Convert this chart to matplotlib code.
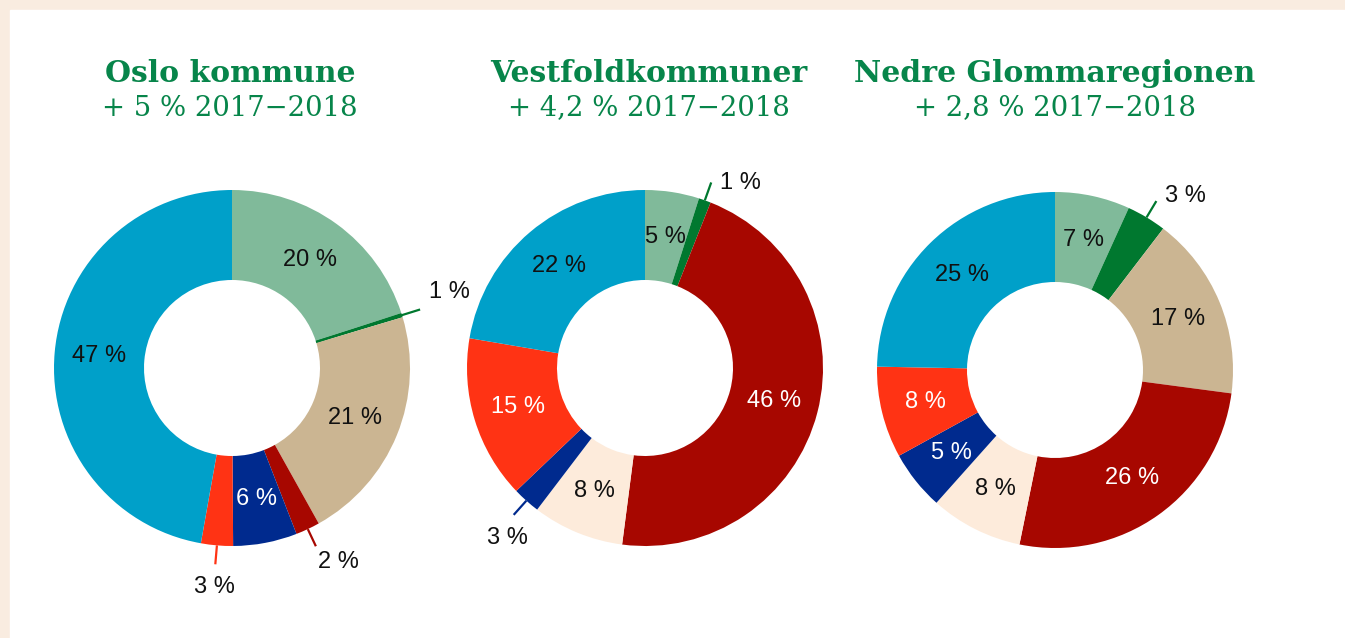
import numpy as np
import matplotlib.pyplot as plt
from matplotlib.patches import Rectangle

# segment order, clockwise from 12 o'clock
colors = ["#80ba9a", "#00782f", "#cbb592", "#a70700",
          "#fdebdb", "#002a8e", "#ff3314", "#00a0c9"]
text_colors = ["#111111", "#111111", "#111111", "white",
               "#111111", "white", "white", "#111111"]

titles = ["Oslo kommune", "Vestfoldkommuner", "Nedre Glommaregionen"]
subtitles = ["+ 5 % 2017\u22122018", "+ 4,2 % 2017\u22122018", "+ 2,8 % 2017\u22122018"]

# shares
oslo = [20, 0.4, 21.5, 2.2, 0, 5.8, 2.9, 47.2]
vestfold = [4.9, 1.1, 0, 46, 8.3, 2.5, 14.8, 22.3]
nedre = [6.8, 3.6, 16.7, 26.1, 8.4, 5.4, 8.3, 24.7]

# printed labels
oslo_lbl = [20, 1, 21, 2, None, 6, 3, 47]
vestfold_lbl = [5, 1, None, 46, 8, 3, 15, 22]
nedre_lbl = [7, 3, 17, 26, 8, 5, 8, 25]

W, H = 1345, 638
fig = plt.figure(figsize=(W / 100, H / 100), dpi=100)
fig.patch.set_facecolor("#f9ece0")
ax = fig.add_axes([0, 0, 1, 1])
ax.add_patch(Rectangle((10, 0), W - 10, H - 10, color="white", zorder=0))

centers = [(232, H - 368), (645, H - 368), (1055, H - 370)]
title_x = [230, 649, 1055]
R, r_in = 178, 88
green = "#07854a"
lblfont = dict(fontsize=17, family="Liberation Sans")

for k, (vals, lbls) in enumerate([(oslo, oslo_lbl), (vestfold, vestfold_lbl), (nedre, nedre_lbl)]):
    cx, cy = centers[k]
    wedges, _ = ax.pie(vals, colors=colors, startangle=90, counterclock=False,
                       center=(cx, cy), radius=R,
                       wedgeprops=dict(width=R - r_in, linewidth=0))
    for i, w in enumerate(wedges):
        if lbls[i] is None:
            continue
        a = np.deg2rad((w.theta1 + w.theta2) / 2)
        txt = f"{lbls[i]} %"
        if vals[i] < 4:
            # small wedge: leader line + outside label
            r0 = r_in if vals[i] < 1 else R
            x0, y0 = cx + r0 * np.cos(a), cy + r0 * np.sin(a)
            x1, y1 = cx + 197 * np.cos(a), cy + 197 * np.sin(a)
            ax.plot([x0, x1], [y0, y1], color=colors[i], lw=1.6, solid_capstyle="butt")
            if np.sin(a) > 0:
                ax.text(x1 + 9, y1 + 29 * np.cos(a) - 10, txt, ha="left", va="center",
                        color="#111111", **lblfont)
            elif np.cos(a) > 0.3:
                ax.text(x1 + 2, y1 - 5, txt, ha="left", va="top",
                        color="#111111", **lblfont)
            else:
                ax.text(x1 + 10 * np.cos(a), y1 - 12, txt, ha="center", va="top",
                        color="#111111", **lblfont)
        else:
            rl = 133
            ax.text(cx + rl * np.cos(a), cy + rl * np.sin(a), txt,
                    ha="center", va="center", color=text_colors[i], **lblfont)
    ax.text(title_x[k], H - 73, titles[k], ha="center", va="center",
            fontsize=21.5, family="DejaVu Serif", fontweight="bold", color=green)
    ax.text(title_x[k], H - 108, subtitles[k], ha="center", va="center",
            fontsize=19.8, family="DejaVu Serif", color=green)

ax.set_xlim(0, W)
ax.set_ylim(0, H)
ax.set_aspect("auto")
ax.axis("off")
fig.savefig("out.png", dpi=100, facecolor=fig.get_facecolor())
